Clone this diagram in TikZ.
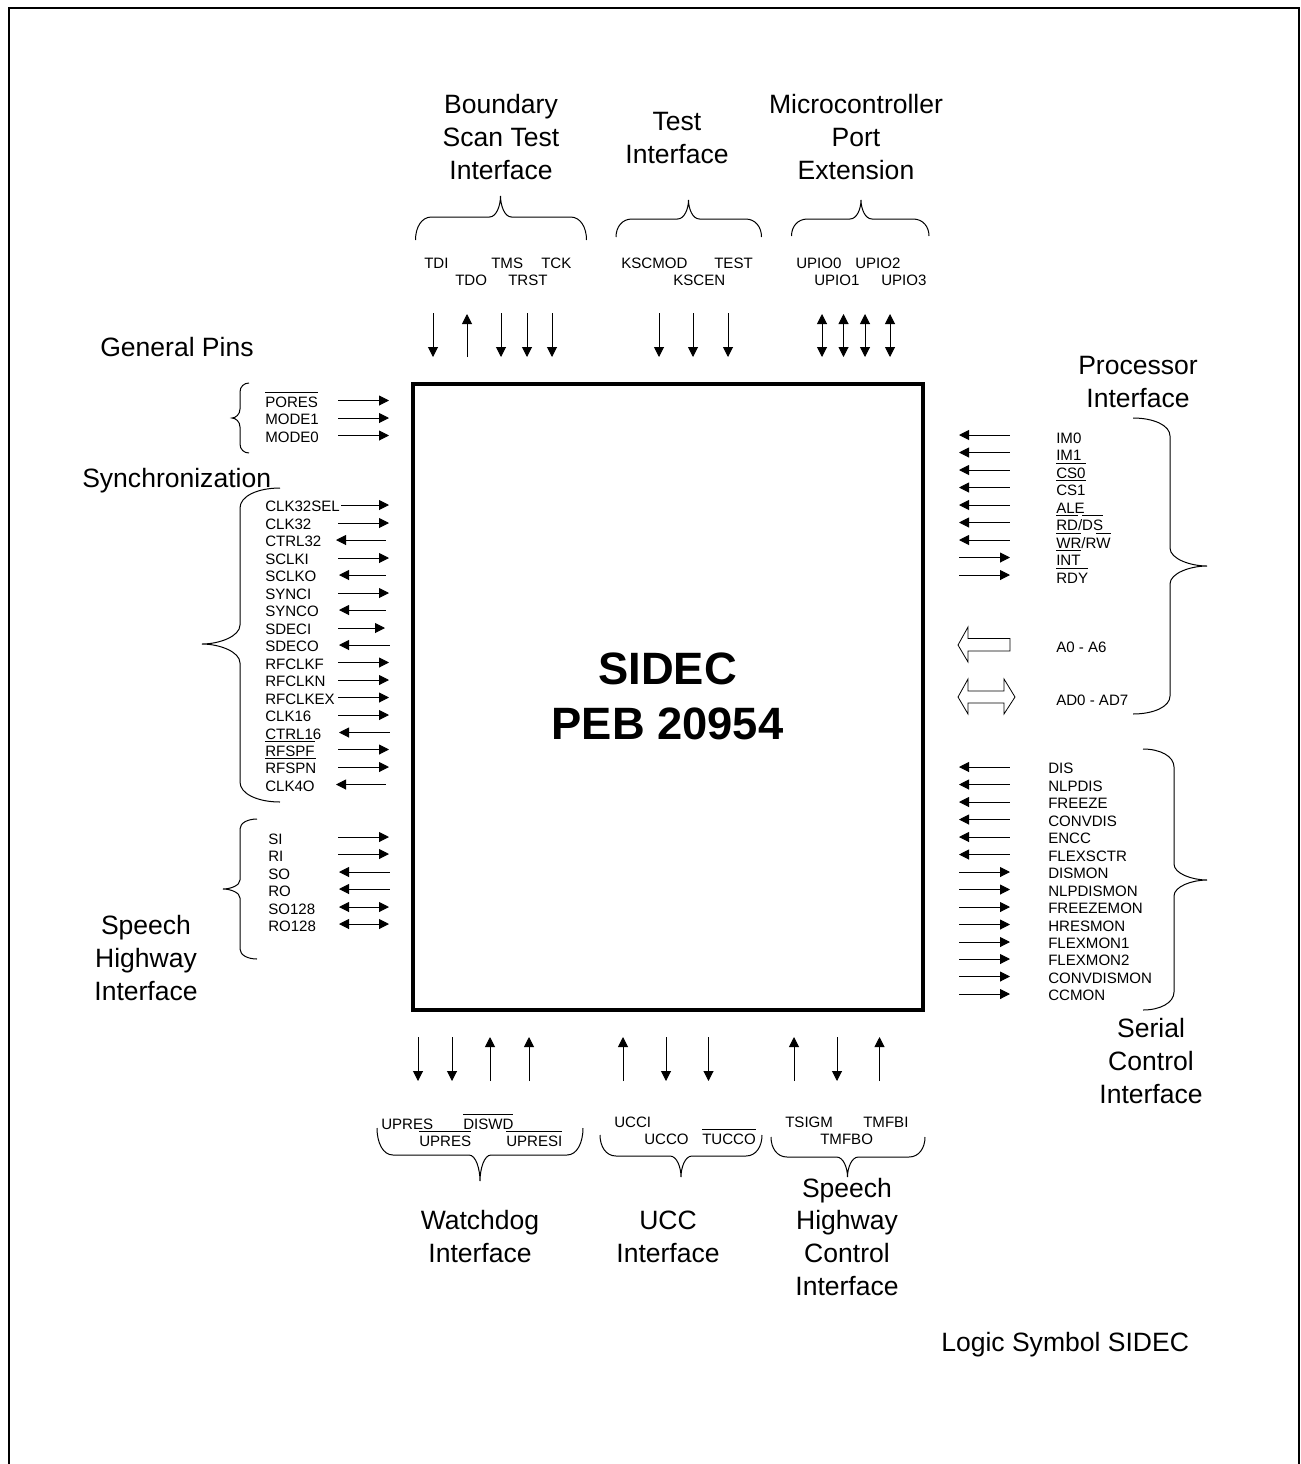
\documentclass[tikz,border=0pt]{standalone}
\usepackage{fontspec}
\setmainfont{Liberation Sans}
\usetikzlibrary{arrows.meta}
\newsavebox\ovlbox
\newcommand\ovl[1]{\sbox\ovlbox{#1}\rlap{\rule[10.9pt]{\wd\ovlbox}{0.7pt}}\usebox\ovlbox}
\tikzset{
  x=0.75pt,y=-0.75pt,
  wire/.style={line width=0.75pt,black},
  rt/.style={wire,-{Triangle[length=7.5pt,width=7.5pt]}},
  lt/.style={wire,{Triangle[length=7.5pt,width=7.5pt]}-},
  bt/.style={wire,{Triangle[length=7.5pt,width=7.5pt]}-{Triangle[length=7.5pt,width=7.5pt]}},
  bracel/.style={line width=0.75pt,black},
  pinlabel/.style={anchor=base west,inner sep=0pt,font=\fontsize{11.3}{13}\selectfont},
  head/.style={anchor=base,align=center,inner sep=0pt,font=\fontsize{19.9}{24.4}\selectfont},
  headl/.style={anchor=base west,inner sep=0pt,font=\fontsize{19.9}{24.4}\selectfont},
  chip/.style={draw,line width=3pt,minimum width=510*0.75pt,minimum height=626*0.75pt,align=center,inner sep=0pt,font=\fontsize{34}{41.5}\selectfont\bfseries},
}
% \pin{id}{label x}{label baseline}{text}{x1}{y1}{x2}{y2}{style}
\newcommand\pin[9]{%
  \node[pinlabel] (#1) at (#2,#3) {#4};
  \coordinate (#1a) at (#5,#6);
  \coordinate (#1b) at (#7,#8);
  \draw[#9] (#1a) -- (#1b);
}
% pin on the left side: id, text, y, style, x1, x2
\newcommand\lp[6]{\pin{#1}{265}{#3+6.7}{#2}{#5}{#3}{#6}{#3}{#4}}
% pin on the right side
\newcommand\rpa[3]{\pin{#1}{1056}{#3+8}{#2}{959}{#3}{1010}{#3}{lt}}
\newcommand\rpb[3]{\pin{#1}{1056}{#3+8}{#2}{959}{#3}{1010}{#3}{rt}}
\newcommand\spa[3]{\pin{#1}{1048}{#3+6.7}{#2}{959}{#3}{1010}{#3}{lt}}
\newcommand\spb[3]{\pin{#1}{1048}{#3+6.7}{#2}{959}{#3}{1010}{#3}{rt}}
% vertical arrows: id, x, y1, y2
\newcommand\va[4]{\coordinate (#1a) at (#2,#3); \coordinate (#1b) at (#2,#4); \draw[rt] (#1a) -- (#1b);}
\newcommand\vb[4]{\coordinate (#1a) at (#2,#3); \coordinate (#1b) at (#2,#4); \draw[bt] (#1a) -- (#1b);}
% horizontal-running brace: x1, xtip, x2, yend, yflat, ytip
\newcommand\hbr[6]{\draw[bracel] (#1,#4) .. controls (#1,{#5+0.45*(#4-#5)}) and ({#1+6},#5) .. ({#1+16},#5) -- ({#2-11},#5)
  .. controls ({#2-4},#5) and (#2,{#6+0.45*(#5-#6)}) .. (#2,#6)
  .. controls (#2,{#6+0.45*(#5-#6)}) and ({#2+4},#5) .. ({#2+11},#5) -- ({#3-16},#5)
  .. controls ({#3-6},#5) and (#3,{#5+0.45*(#4-#5)}) .. (#3,#4);}
% vertical-running brace: y1, ytip, y2, xend, xflat, xtip, arc height, tip arc height
\newcommand\vbr[8]{\draw[bracel] (#4,#1) .. controls ({#5+0.45*(#4-#5)},#1) and (#5,{#1+0.4*#7}) .. (#5,{#1+#7}) -- (#5,{#2-#8})
  .. controls (#5,{#2-0.4*#8}) and ({#6+0.45*(#5-#6)},#2) .. (#6,#2)
  .. controls ({#6+0.45*(#5-#6)},#2) and (#5,{#2+0.4*#8}) .. (#5,{#2+#8}) -- (#5,{#3-#7})
  .. controls (#5,{#3-0.4*#7}) and ({#5+0.45*(#4-#5)},#3) .. (#4,#3);}
\begin{document}
\begin{tikzpicture}
\useasboundingbox (0,0) rectangle (1300,1464);
\fill[white] (0,0) rectangle (1300,1464);
% page frame
\draw[line width=1.5pt,line cap=butt] (9,1464) -- (9,8) -- (1298.5,8) -- (1298.5,1464);
% chip
\node[chip] (chip) at (667.5,696.5) {SIDEC\\PEB 20954};

% headings
\node[head] (hBST) at (501,179) {Boundary\\Scan Test\\Interface};
\node[head] (hTI) at (677,163) {Test\\Interface};
\node[head] (hMPE) at (856,179) {Microcontroller\\Port\\Extension};
\node[headl] (hGP) at (100,356) {General Pins};
\node[headl] (hSY) at (82,487) {Synchronization};
\node[head] (hPI) at (1138,407) {Processor\\Interface};
\node[head] (hSHI) at (146,1000) {Speech\\Highway\\Interface};
\node[head] (hSCI) at (1151,1103) {Serial\\Control\\Interface};
\node[head] (hWD) at (480,1262) {Watchdog\\Interface};
\node[head] (hUCC) at (668,1262) {UCC\\Interface};
\node[head] (hSHC) at (847,1295) {Speech\\Highway\\Control\\Interface};
\node[headl] (hLS) at (941,1351) {Logic Symbol SIDEC};

% top braces
\hbr{415.5}{500.5}{586.5}{240}{217}{196}
\hbr{616}{688.5}{761.5}{237}{219}{200}
\hbr{791.5}{861}{929}{236}{219}{200}
% top labels
\node[pinlabel] (TDI) at (424,268) {TDI};
\node[pinlabel] (TDO) at (455,285) {TDO};
\node[pinlabel] (TMS) at (491,268) {TMS};
\node[pinlabel] (TRST) at (508,285) {TRST};
\node[pinlabel] (TCK) at (541,268) {TCK};
\node[pinlabel] (KSCMOD) at (621,268) {KSCMOD};
\node[pinlabel] (TEST) at (714,268) {TEST};
\node[pinlabel] (KSCEN) at (673,285) {KSCEN};
\node[pinlabel] (UPIOa) at (796,268) {UPIO0};
\node[pinlabel] (UPIOc) at (855,268) {UPIO2};
\node[pinlabel] (UPIOb) at (814,285) {UPIO1};
\node[pinlabel] (UPIOd) at (881,285) {UPIO3};
% top arrows
\va{t1}{433}{313}{357}
\va{t2}{467}{357}{314}
\va{t3}{501}{313}{357}
\va{t4}{527}{313}{357}
\va{t5}{552}{313}{357}
\va{t6}{659}{313}{357}
\va{t7}{693}{313}{357}
\va{t8}{728}{313}{357}
\vb{t9}{822}{314}{357}
\vb{t10}{843.5}{314}{357}
\vb{t11}{865}{314}{357}
\vb{t12}{890}{314}{357}

% general pins
\vbr{383}{418}{453}{249}{240}{232}{9}{9}
\lp{PORES}{\ovl{PORES}}{400.5}{rt}{338}{389}
\lp{MODEa}{MODE1}{418}{rt}{338}{389}
\lp{MODEb}{MODE0}{435.5}{rt}{338}{389}

% synchronization
\vbr{488}{644}{802}{280}{240}{202}{20}{19}
\lp{CLKSEL}{CLK32SEL}{505}{rt}{341}{389}
\lp{CLKb}{CLK32}{523}{rt}{338}{389}
\lp{CTRLb}{CTRL32}{540}{lt}{336}{386}
\lp{SCLKI}{SCLKI}{558}{rt}{338}{389}
\lp{SCLKO}{SCLKO}{575}{lt}{339}{386}
\lp{SYNCI}{SYNCI}{593}{rt}{338}{389}
\lp{SYNCO}{SYNCO}{610}{lt}{339}{386}
\lp{SDECI}{SDECI}{628}{rt}{338}{385}
\lp{SDECO}{SDECO}{645}{lt}{339}{390}
\lp{RFCLKF}{RFCLKF}{662.5}{rt}{338}{389}
\lp{RFCLKN}{RFCLKN}{680}{rt}{338}{389}
\lp{RFCLKEX}{RFCLKEX}{697.5}{rt}{338}{389}
\lp{CLKc}{CLK16}{715}{rt}{338}{389}
\lp{CTRLc}{CTRL16}{732.5}{lt}{339}{390}
\lp{RFSPF}{\ovl{RFSPF}}{749.5}{rt}{338}{389}
\lp{RFSPN}{\ovl{RFSPN}}{767}{rt}{338}{389}
\lp{CLKd}{CLK4O}{784.5}{lt}{336}{386}

% speech highway
\vbr{819}{889}{959}{257}{240}{223}{10}{9}
\pin{SI}{268}{844}{SI}{338}{837}{389}{837}{rt}
\pin{RI}{268}{861}{RI}{338}{854}{389}{854}{rt}
\pin{SO}{268}{879}{SO}{339}{872}{390}{872}{lt}
\pin{RO}{268}{896}{RO}{339}{889}{390}{889}{lt}
\pin{SOb}{268}{914}{SO128}{339}{907}{389}{907}{bt}
\pin{ROb}{268}{931}{RO128}{339}{924}{389}{924}{bt}

% processor interface
\vbr{418}{566}{714}{1133}{1170}{1207}{18}{18}
\rpa{IMa}{IM0}{435}
\rpa{IMb}{IM1}{452.5}
\rpa{CSa}{\ovl{CS0}}{470}
\rpa{CSb}{\ovl{CS1}}{487.5}
\rpa{ALE}{ALE}{505}
\rpa{RDDS}{\ovl{RD}/\ovl{DS}}{522.5}
\rpa{WRRW}{\ovl{WR}/R\ovl{W}}{540}
\rpb{INT}{\ovl{INT}}{557.5}
\rpb{RDY}{\ovl{RDY}}{575}
\node[pinlabel] (Abus) at (1056,652) {A0 - A6};
\node[pinlabel] (ADbus) at (1056,705) {AD0 - AD7};
\draw[line width=0.6pt] (958,645) -- (968,627) -- (968,638.5) -- (1010,638.5) -- (1010,651) -- (968,651) -- (968,662) -- cycle;
\draw[line width=0.6pt] (958,697) -- (968,679) -- (968,691) -- (1004,691) -- (1004,679) -- (1015,697) -- (1004,714) -- (1004,703) -- (968,703) -- (968,714) -- cycle;

% serial control
\vbr{749}{880}{1010}{1143}{1174}{1207}{18}{16}
\spa{DIS}{DIS}{767}
\spa{NLPDIS}{NLPDIS}{784.5}
\spa{FREEZE}{FREEZE}{802}
\spa{CONVDIS}{CONVDIS}{819.5}
\spa{ENCC}{ENCC}{837}
\spa{FLEXSCTR}{FLEXSCTR}{854.5}
\spb{DISMON}{DISMON}{872}
\spb{NLPDISMON}{NLPDISMON}{889.5}
\spb{FREEZEMON}{FREEZEMON}{907}
\spb{HRESMON}{HRESMON}{924.5}
\spb{FLEXMONa}{FLEXMON1}{942}
\spb{FLEXMONb}{FLEXMON2}{959}
\spb{CONVDISMON}{CONVDISMON}{976.5}
\spb{CCMON}{CCMON}{994}

% bottom arrows
\va{b1}{418}{1037}{1081}
\va{b2}{452}{1037}{1081}
\va{b3}{490}{1081}{1037}
\va{b4}{529}{1081}{1037}
\va{b5}{623}{1081}{1037}
\va{b6}{666}{1037}{1081}
\va{b7}{708.5}{1037}{1081}
\va{b8}{794}{1081}{1037}
\va{b9}{837}{1037}{1081}
\va{b10}{879.5}{1081}{1037}
% bottom labels
\node[pinlabel] (UPRa) at (381,1129) {UPRES};
\node[pinlabel] (DISWD) at (463,1129) {\ovl{DISWD}};
\node[pinlabel] (UPRb) at (419,1146) {\ovl{UPRES}};
\node[pinlabel] (UPRESI) at (506,1146) {\ovl{UPRESI}};
\node[pinlabel] (UCCI) at (614,1127) {UCCI};
\node[pinlabel] (UCCO) at (644,1144) {UCCO};
\node[pinlabel] (TUCCO) at (702,1144) {\ovl{TUCCO}};
\node[pinlabel] (TSIGM) at (785,1127) {TSIGM};
\node[pinlabel] (TMFBI) at (863,1127) {TMFBI};
\node[pinlabel] (TMFBO) at (820,1144) {TMFBO};
% bottom braces
\hbr{377}{480}{583}{1128}{1155}{1181}
\hbr{600}{681}{762}{1135}{1156}{1177}
\hbr{771}{847.5}{925}{1137}{1157}{1177}
\end{tikzpicture}
\end{document}
